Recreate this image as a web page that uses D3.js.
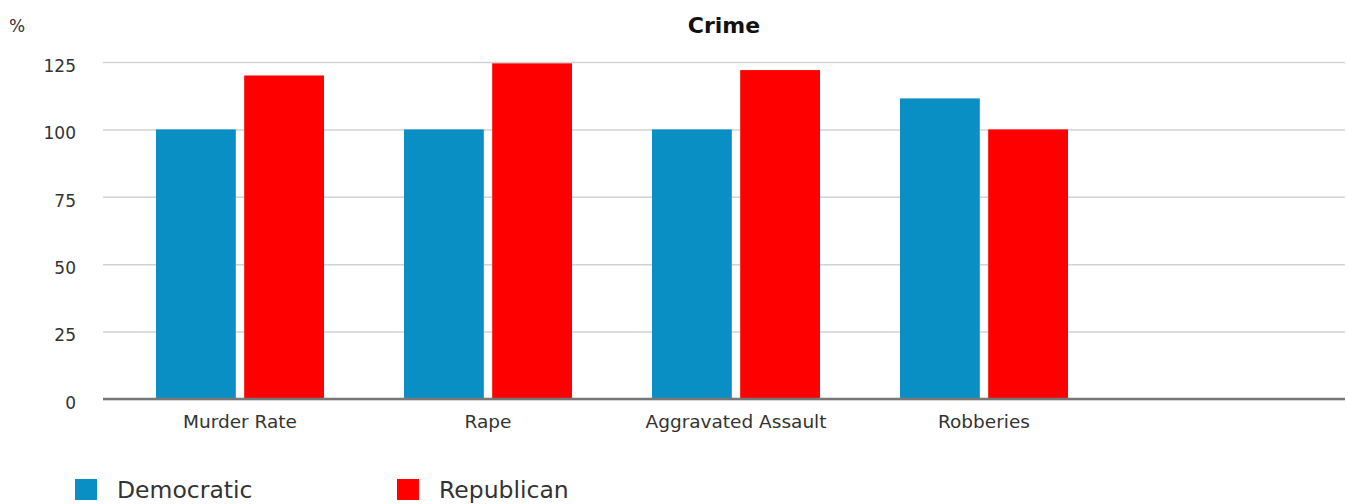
<!DOCTYPE html>
<html>
<head>
<meta charset="utf-8">
<script src="https://cdn.jsdelivr.net/npm/d3@7/dist/d3.min.js"></script>
<style>
  html, body { margin: 0; padding: 0; background: #fff; }
  svg { display: block; }
  text { font-family: "DejaVu Sans", "Lucida Grande", sans-serif; }
</style>
</head>
<body>
<svg id="chart" width="1348" height="504"></svg>
<script>
const categories = ["Murder Rate", "Rape", "Aggravated Assault", "Robberies"];
const seriesNames = ["Democratic", "Republican"];
const democratic = [100, 100, 100, 111.5];
const republican = [120, 124.5, 122, 100];
const yTicks = [0, 25, 50, 75, 100, 125];
const colors = ["#0a8fc4", "#fe0000"];
const title = "Crime";
const yUnit = "%";

const svg = d3.select("#chart");
const plot = { left: 103, right: 1345, top: 62, bottom: 399 };

const seriesValues = [democratic, republican];
const rows = categories.map((c, i) => ({
  cat: c,
  vals: seriesNames.map((s, j) => ({ series: s, value: seriesValues[j][i], idx: j }))
}));

// band scale with an empty trailing slot (the reference leaves room for a fifth group)
const x0 = d3.scaleBand()
  .domain([...categories, "__empty__"])
  .range([116, 1356])
  .paddingInner(0.3226)
  .paddingOuter(0.1613);
const x1 = d3.scaleBand()
  .domain(seriesNames)
  .range([0, x0.bandwidth()])
  .paddingInner(0.095);
const y = d3.scaleLinear().domain([0, 125]).range([plot.bottom, plot.top]);

// gridlines + y tick labels
const yAxis = d3.axisLeft(y).tickValues(yTicks).tickSize(0).tickPadding(0).tickFormat(d3.format("d"));
const gAxis = svg.append("g").attr("transform", `translate(${plot.left},0)`).call(yAxis);
gAxis.select(".domain").remove();
gAxis.selectAll(".tick line")
  .attr("x1", 0).attr("x2", plot.right - plot.left)
  .attr("stroke", "#d2d2d2").attr("stroke-width", 1.5);
gAxis.selectAll(".tick text")
  .attr("x", -27).attr("dy", "0.55em")
  .attr("fill", "#333")
  .style("font-size", "17px")
  .style("font-family", "'DejaVu Sans', sans-serif");

// bars
const groups = svg.append("g").selectAll("g")
  .data(rows).join("g")
  .attr("transform", d => `translate(${x0(d.cat)},0)`);
groups.selectAll("rect")
  .data(d => d.vals).join("rect")
  .attr("x", d => x1(d.series))
  .attr("width", x1.bandwidth())
  .attr("y", d => y(d.value))
  .attr("height", d => y(0) - y(d.value))
  .attr("fill", d => colors[d.idx]);

// baseline
svg.append("line")
  .attr("x1", plot.left).attr("x2", plot.right)
  .attr("y1", y(0)).attr("y2", y(0))
  .attr("stroke", "#777").attr("stroke-width", 2.5);

// x axis labels
const xAxis = d3.axisBottom(x0).tickValues(categories).tickSize(0).tickPadding(0);
const gx = svg.append("g").attr("transform", `translate(0,${y(0)})`).call(xAxis);
gx.select(".domain").remove();
gx.selectAll(".tick text")
  .attr("y", 29)
  .attr("dy", 0)
  .attr("fill", "#333")
  .style("font-size", "18.5px")
  .style("font-family", "'DejaVu Sans', sans-serif");

// title
svg.append("text")
  .attr("x", (plot.left + plot.right) / 2)
  .attr("y", 33)
  .attr("text-anchor", "middle")
  .attr("fill", "#111")
  .style("font-weight", "bold")
  .style("font-size", "22px")
  .text(title);

// y unit
svg.append("text")
  .attr("x", 9).attr("y", 32)
  .attr("fill", "#333")
  .style("font-size", "17px")
  .text(yUnit);

// legend
const legend = svg.append("g").attr("transform", "translate(75,479)");
const li = legend.selectAll("g").data(seriesNames).join("g")
  .attr("transform", (d, i) => `translate(${i * 322},0)`);
li.append("rect").attr("width", 22).attr("height", 21).attr("fill", (d, i) => colors[i]);
li.append("text")
  .attr("x", 42).attr("y", 19)
  .attr("fill", "#333")
  .style("font-size", "23.5px")
  .text(d => d);
</script>
</body>
</html>
